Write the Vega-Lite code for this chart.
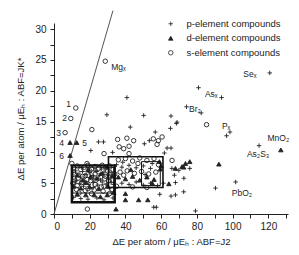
{
  "$schema": "https://vega.github.io/schema/vega-lite/v6.json",
  "width": 234,
  "height": 191,
  "autosize": {"type": "none"},
  "padding": {"left": 54, "top": 23, "right": 11, "bottom": 41},
  "background": "white",
  "config": {
    "view": {"stroke": null},
    "font": "Liberation Sans",
    "axis": {
      "grid": false,
      "domainColor": "#222",
      "tickColor": "#222",
      "tickSize": 4,
      "labelFont": "Liberation Sans",
      "labelFontSize": 10,
      "labelColor": "#222",
      "titleFont": "Liberation Sans",
      "titleFontSize": 9.5,
      "titleFontWeight": "normal",
      "titleColor": "#222"
    }
  },
  "datasets": {
    "pts": [
      {"x": 28.7, "y": 24.8, "t": "s"}, {"x": 12.2, "y": 17.2, "t": "s"}, {"x": 9.4, "y": 15.5, "t": "s"}, {"x": 6.2, "y": 13.2, "t": "s"},
      {"x": 9, "y": 11.6, "t": "d"}, {"x": 12.7, "y": 11.6, "t": "d"}, {"x": 9, "y": 9.5, "t": "d"}, {"x": 10, "y": 8.2, "t": "s"},
      {"x": 120.8, "y": 22.9, "t": "p"}, {"x": 93.8, "y": 18.9, "t": "p"}, {"x": 80.9, "y": 20.5, "t": "p"}, {"x": 74.2, "y": 17.4, "t": "p"},
      {"x": 98.5, "y": 13.3, "t": "p"}, {"x": 96.6, "y": 12.7, "t": "p"}, {"x": 85.4, "y": 14.5, "t": "s"}, {"x": 127, "y": 10.4, "t": "d"},
      {"x": 114.8, "y": 11.1, "t": "p"}, {"x": 101.7, "y": 5.2, "t": "p"}, {"x": 92.3, "y": 8.1, "t": "d"}, {"x": 90.4, "y": 4.2, "t": "p"},
      {"x": 40.8, "y": 18.9, "t": "p"}, {"x": 29.6, "y": 16.1, "t": "p"}, {"x": 50.2, "y": 16, "t": "p"}, {"x": 42.7, "y": 14.1, "t": "p"},
      {"x": 82.4, "y": 16.4, "t": "p"}, {"x": 65.5, "y": 15.9, "t": "p"}, {"x": 68.5, "y": 14.7, "t": "p"}, {"x": 65.2, "y": 13.9, "t": "p"},
      {"x": 21.2, "y": 13.7, "t": "s"}, {"x": 35.6, "y": 12.1, "t": "s"}, {"x": 40.8, "y": 12.3, "t": "s"}, {"x": 44.6, "y": 11.9, "t": "s"},
      {"x": 24.9, "y": 11.7, "t": "p"}, {"x": 27.7, "y": 11.7, "t": "p"}, {"x": 20.6, "y": 10.3, "t": "p"}, {"x": 32.8, "y": 10, "t": "p"},
      {"x": 36.5, "y": 10.9, "t": "s"}, {"x": 39, "y": 10.6, "t": "s"}, {"x": 42, "y": 11, "t": "s"}, {"x": 28, "y": 9.8, "t": "s"}, {"x": 42, "y": 9.8, "t": "s"},
      {"x": 50.6, "y": 11.4, "t": "p"}, {"x": 53.4, "y": 11.9, "t": "p"}, {"x": 56.7, "y": 13.3, "t": "p"},
      {"x": 55.6, "y": 12.2, "t": "s"}, {"x": 60.5, "y": 12.5, "t": "s"}, {"x": 58.4, "y": 11.9, "t": "s"}, {"x": 57.7, "y": 11.3, "t": "s"},
      {"x": 63.3, "y": 10.7, "t": "p"}, {"x": 65.5, "y": 10.7, "t": "p"}, {"x": 61.8, "y": 9.9, "t": "p"}, {"x": 66.1, "y": 8.7, "t": "s"},
      {"x": 68, "y": 7.4, "t": "d"}, {"x": 71.7, "y": 7.7, "t": "d"}, {"x": 73.6, "y": 8.2, "t": "d"}, {"x": 76, "y": 8.5, "t": "d"}, {"x": 72.6, "y": 7.6, "t": "d"},
      {"x": 66, "y": 7.4, "t": "p"}, {"x": 69.9, "y": 7.1, "t": "p"}, {"x": 76, "y": 7.4, "t": "p"}, {"x": 67.4, "y": 6.3, "t": "p"}, {"x": 72.7, "y": 5.8, "t": "p"},
      {"x": 72.6, "y": 3.6, "t": "p"}, {"x": 68, "y": 3.1, "t": "p"}, {"x": 65.5, "y": 2.9, "t": "p"}, {"x": 59.2, "y": 3.2, "t": "p"}, {"x": 55.8, "y": 1.1, "t": "p"}, {"x": 79.2, "y": 0.5, "t": "p"},
      {"x": 64.3, "y": 4.9, "t": "d"}, {"x": 68, "y": 5.1, "t": "p"}, {"x": 61.3, "y": 5, "t": "p"},
      {"x": 18.7, "y": 0.8, "t": "s"}, {"x": 34.7, "y": 0.8, "t": "d"}, {"x": 40, "y": 2.3, "t": "d"}, {"x": 47.4, "y": 2.3, "t": "d"}, {"x": 52.5, "y": 2.3, "t": "d"},
      {"x": 40, "y": 3.3, "t": "d"}, {"x": 57.3, "y": 1.1, "t": "p"}, {"x": 68.9, "y": 14.9, "t": "p"}, {"x": 18.5, "y": 8.2, "t": "s"},
      {"x": 11, "y": 7.5, "t": "s"}, {"x": 13, "y": 7.8, "t": "s"}, {"x": 15, "y": 7.2, "t": "s"}, {"x": 17, "y": 7.6, "t": "s"}, {"x": 19, "y": 7.9, "t": "s"}, {"x": 21, "y": 7.3, "t": "s"},
      {"x": 23, "y": 7.7, "t": "s"}, {"x": 25, "y": 7.4, "t": "s"}, {"x": 27, "y": 7.9, "t": "s"}, {"x": 29, "y": 7.5, "t": "s"}, {"x": 31, "y": 7.8, "t": "s"}, {"x": 33, "y": 7.2, "t": "s"},
      {"x": 12, "y": 6.8, "t": "p"}, {"x": 14, "y": 6.5, "t": "p"}, {"x": 16, "y": 6.9, "t": "p"}, {"x": 18, "y": 6.4, "t": "p"}, {"x": 20, "y": 6.7, "t": "p"}, {"x": 22, "y": 6.2, "t": "p"},
      {"x": 24, "y": 6.9, "t": "p"}, {"x": 26, "y": 6.5, "t": "p"}, {"x": 28, "y": 6.8, "t": "p"}, {"x": 30, "y": 6.3, "t": "p"}, {"x": 32, "y": 6.7, "t": "p"},
      {"x": 11, "y": 6, "t": "s"}, {"x": 13.5, "y": 5.8, "t": "s"}, {"x": 16, "y": 6.1, "t": "s"}, {"x": 18.5, "y": 5.6, "t": "s"}, {"x": 21, "y": 5.9, "t": "s"},
      {"x": 23.5, "y": 5.5, "t": "s"}, {"x": 26, "y": 6, "t": "s"}, {"x": 28.5, "y": 5.7, "t": "s"}, {"x": 31, "y": 6, "t": "s"}, {"x": 33, "y": 5.5, "t": "s"},
      {"x": 12, "y": 5.2, "t": "p"}, {"x": 14.5, "y": 4.9, "t": "p"}, {"x": 17, "y": 5.3, "t": "p"}, {"x": 19.5, "y": 4.8, "t": "p"}, {"x": 22, "y": 5.1, "t": "p"},
      {"x": 24.5, "y": 4.7, "t": "p"}, {"x": 27, "y": 5.2, "t": "p"}, {"x": 29.5, "y": 4.9, "t": "p"}, {"x": 32, "y": 5.1, "t": "p"},
      {"x": 11, "y": 4.5, "t": "d"}, {"x": 15, "y": 4.2, "t": "d"}, {"x": 20, "y": 4.4, "t": "d"}, {"x": 25, "y": 4.1, "t": "d"}, {"x": 30, "y": 4.5, "t": "d"},
      {"x": 12.5, "y": 4, "t": "s"}, {"x": 17.5, "y": 3.8, "t": "s"}, {"x": 22.5, "y": 3.9, "t": "s"}, {"x": 27.5, "y": 3.7, "t": "s"}, {"x": 32.5, "y": 4, "t": "s"},
      {"x": 13, "y": 3.2, "t": "d"}, {"x": 17.8, "y": 3.1, "t": "d"}, {"x": 22.5, "y": 3.1, "t": "d"}, {"x": 26, "y": 2.8, "t": "d"}, {"x": 29.8, "y": 3.1, "t": "d"},
      {"x": 11, "y": 2.7, "t": "p"}, {"x": 15, "y": 2.5, "t": "p"}, {"x": 19, "y": 2.4, "t": "p"}, {"x": 24, "y": 2.6, "t": "p"}, {"x": 28, "y": 2.3, "t": "p"}, {"x": 33, "y": 2.6, "t": "p"},
      {"x": 14, "y": 3.4, "t": "s"}, {"x": 21, "y": 3.3, "t": "s"}, {"x": 31, "y": 3.3, "t": "s"},
      {"x": 16, "y": 5.5, "t": "d"}, {"x": 24, "y": 5.8, "t": "d"}, {"x": 13, "y": 6.3, "t": "d"}, {"x": 27, "y": 6.6, "t": "d"},
      {"x": 10.5, "y": 5, "t": "s"}, {"x": 34, "y": 6.5, "t": "s"}, {"x": 20, "y": 7, "t": "s"}, {"x": 30, "y": 7, "t": "s"},
      {"x": 12, "y": 7.1, "t": "p"}, {"x": 15.5, "y": 7.5, "t": "p"}, {"x": 19, "y": 7.2, "t": "d"}, {"x": 23, "y": 7, "t": "p"}, {"x": 26.5, "y": 7.3, "t": "p"}, {"x": 29.5, "y": 7.7, "t": "d"},
      {"x": 11.5, "y": 6.4, "t": "s"}, {"x": 14.8, "y": 6, "t": "p"}, {"x": 17.5, "y": 6.2, "t": "s"}, {"x": 20.5, "y": 6.1, "t": "d"}, {"x": 23, "y": 6.5, "t": "s"}, {"x": 25.5, "y": 6.3, "t": "p"},
      {"x": 29, "y": 6.1, "t": "s"}, {"x": 32.5, "y": 6.2, "t": "d"}, {"x": 12.5, "y": 5.5, "t": "p"}, {"x": 15.5, "y": 5.1, "t": "s"}, {"x": 18, "y": 5.1, "t": "d"}, {"x": 20.5, "y": 5.4, "t": "s"},
      {"x": 23, "y": 4.8, "t": "s"}, {"x": 26, "y": 5.5, "t": "p"}, {"x": 28, "y": 4.5, "t": "s"}, {"x": 30.5, "y": 5.4, "t": "s"}, {"x": 33.5, "y": 4.8, "t": "p"}, {"x": 13, "y": 4.6, "t": "s"},
      {"x": 16.5, "y": 4.5, "t": "p"}, {"x": 19, "y": 4.1, "t": "s"}, {"x": 22, "y": 4.3, "t": "p"}, {"x": 26.5, "y": 4.4, "t": "s"}, {"x": 31, "y": 4.2, "t": "p"}, {"x": 33.5, "y": 3.5, "t": "d"},
      {"x": 36, "y": 8.8, "t": "s"}, {"x": 40, "y": 9, "t": "s"}, {"x": 44, "y": 8.6, "t": "s"}, {"x": 48, "y": 9.1, "t": "s"}, {"x": 52, "y": 8.7, "t": "s"}, {"x": 56, "y": 9, "t": "s"},
      {"x": 35, "y": 8, "t": "p"}, {"x": 38, "y": 7.6, "t": "p"}, {"x": 42, "y": 7.9, "t": "p"}, {"x": 46, "y": 7.5, "t": "p"}, {"x": 50, "y": 7.8, "t": "p"}, {"x": 54, "y": 7.4, "t": "p"},
      {"x": 37, "y": 6.8, "t": "s"}, {"x": 41, "y": 7, "t": "s"}, {"x": 45, "y": 6.6, "t": "s"}, {"x": 49, "y": 6.9, "t": "s"}, {"x": 53, "y": 6.5, "t": "s"}, {"x": 57, "y": 6.8, "t": "s"},
      {"x": 36, "y": 6, "t": "d"}, {"x": 40, "y": 5.7, "t": "d"}, {"x": 44, "y": 6.1, "t": "d"}, {"x": 48, "y": 5.5, "t": "d"}, {"x": 52, "y": 6, "t": "d"}, {"x": 56, "y": 5.6, "t": "d"},
      {"x": 38, "y": 5, "t": "p"}, {"x": 42, "y": 4.8, "t": "p"}, {"x": 46, "y": 5.2, "t": "p"}, {"x": 50, "y": 4.7, "t": "p"}, {"x": 54, "y": 5, "t": "p"}, {"x": 58, "y": 4.6, "t": "p"},
      {"x": 35, "y": 4.5, "t": "s"}, {"x": 44, "y": 4.4, "t": "s"}, {"x": 52, "y": 4.3, "t": "s"},
      {"x": 38.5, "y": 8.4, "t": "p"}, {"x": 43, "y": 7.2, "t": "d"}, {"x": 47, "y": 8.2, "t": "s"}, {"x": 51, "y": 6.4, "t": "p"}, {"x": 55, "y": 8.2, "t": "p"}, {"x": 39, "y": 6.3, "t": "s"},
      {"x": 59, "y": 8.5, "t": "d"}, {"x": 60, "y": 7.8, "t": "d"}, {"x": 59.5, "y": 7.3, "t": "d"}, {"x": 58.5, "y": 8, "t": "s"}, {"x": 55, "y": 5, "t": "d"}
    ],
    "thick": [{"x": 10, "xe": 34, "y": 1.9, "ye": 7.9}],
    "mid": [{"x": 30.5, "xe": 61, "y": 4.3, "ye": 9.3}],
    "thin": [{"x": 10.5, "xe": 33.5, "y": 3.4, "ye": 7.6}, {"x": 49, "xe": 59.5, "y": 4.6, "ye": 8.5}],
    "diag": [{"x": 0, "y": 0, "xe": 33, "ye": 33}],
    "labels": [
      {"x": 32, "y": 23.8, "txt": "Mgₓ"}, {"x": 106, "y": 22.7, "txt": "Seₓ"}, {"x": 84.5, "y": 19.4, "txt": "Asₓ"},
      {"x": 75.6, "y": 17.1, "txt": "Br₂"}, {"x": 94, "y": 14.3, "txt": "Pₓ"}, {"x": 119.5, "y": 12.3, "txt": "MnO₂"},
      {"x": 108, "y": 9.7, "txt": "As₂S₃"}, {"x": 99.5, "y": 3.4, "txt": "PbO₂"},
      {"x": 6.8, "y": 17.9, "txt": "1"}, {"x": 4.6, "y": 15.6, "txt": "2"}, {"x": 1.2, "y": 13.1, "txt": "3"},
      {"x": 3, "y": 11.6, "txt": "4"}, {"x": 15.8, "y": 11.6, "txt": "5"}, {"x": 3, "y": 9.4, "txt": "6"}
    ]
  },
  "encoding": {
    "x": {
      "field": "x", "type": "quantitative",
      "scale": {"domain": [0, 131], "nice": false, "zero": true},
      "axis": {
        "values": [0, 10, 20, 30, 40, 50, 60, 70, 80, 90, 100, 110, 120, 130],
        "labelExpr": "datum.value % 20 == 0 ? datum.label : ''",
        "labelPadding": 3, "titlePadding": 5,
        "title": "ΔE per atom / μEₕ : ABF=J2"
      }
    },
    "y": {
      "field": "y", "type": "quantitative",
      "scale": {"domain": [0, 31], "nice": false},
      "axis": {
        "values": [0, 2.5, 5, 7.5, 10, 12.5, 15, 17.5, 20, 22.5, 25, 27.5, 30],
        "labelExpr": "datum.value % 5 == 0 ? datum.label : ''",
        "labelPadding": 4, "titlePadding": 9,
        "title": "ΔE per atom / μEₕ : ABF=JK*"
      }
    }
  },
  "layer": [
    {
      "data": {"name": "diag"},
      "mark": {"type": "rule", "color": "#555", "strokeWidth": 1, "clip": false},
      "encoding": {"x2": {"field": "xe"}, "y2": {"field": "ye"}}
    },
    {
      "data": {"name": "pts"},
      "mark": {"type": "point", "stroke": "#222", "strokeWidth": 0.9, "size": 20, "opacity": 1},
      "encoding": {
        "shape": {
          "field": "t", "type": "nominal",
          "scale": {"domain": ["p", "d", "s"], "range": ["M-1,0H1M0,-1V1", "triangle-up", "circle"]},
          "legend": {
            "title": null, "orient": "none", "legendX": 112, "legendY": -4,
            "padding": 0, "labelFontSize": 9.5, "labelColor": "#222", "labelFont": "Liberation Sans",
            "rowPadding": 3.5, "labelOffset": 11, "symbolSize": 20, "symbolStrokeWidth": 0.8,
            "labelExpr": "datum.label == 'p' ? 'p-element compounds' : datum.label == 'd' ? 'd-element compounds' : 's-element compounds'"
          }
        },
        "fill": {
          "field": "t", "type": "nominal",
          "scale": {"domain": ["p", "d", "s"], "range": ["transparent", "#222", "transparent"]},
          "legend": null
        }
      }
    },
    {
      "data": {"name": "thick"},
      "mark": {"type": "rect", "fill": null, "stroke": "#111", "strokeWidth": 2.4},
      "encoding": {"x2": {"field": "xe"}, "y2": {"field": "ye"}}
    },
    {
      "data": {"name": "mid"},
      "mark": {"type": "rect", "fill": null, "stroke": "#111", "strokeWidth": 1.6},
      "encoding": {"x2": {"field": "xe"}, "y2": {"field": "ye"}}
    },
    {
      "data": {"name": "thin"},
      "mark": {"type": "rect", "fill": null, "stroke": "#111", "strokeWidth": 1},
      "encoding": {"x2": {"field": "xe"}, "y2": {"field": "ye"}}
    },
    {
      "data": {"name": "labels"},
      "mark": {"type": "text", "align": "left", "baseline": "middle", "fontSize": 8.5, "color": "#222", "font": "Liberation Sans"},
      "encoding": {"text": {"field": "txt"}}
    }
  ]
}
